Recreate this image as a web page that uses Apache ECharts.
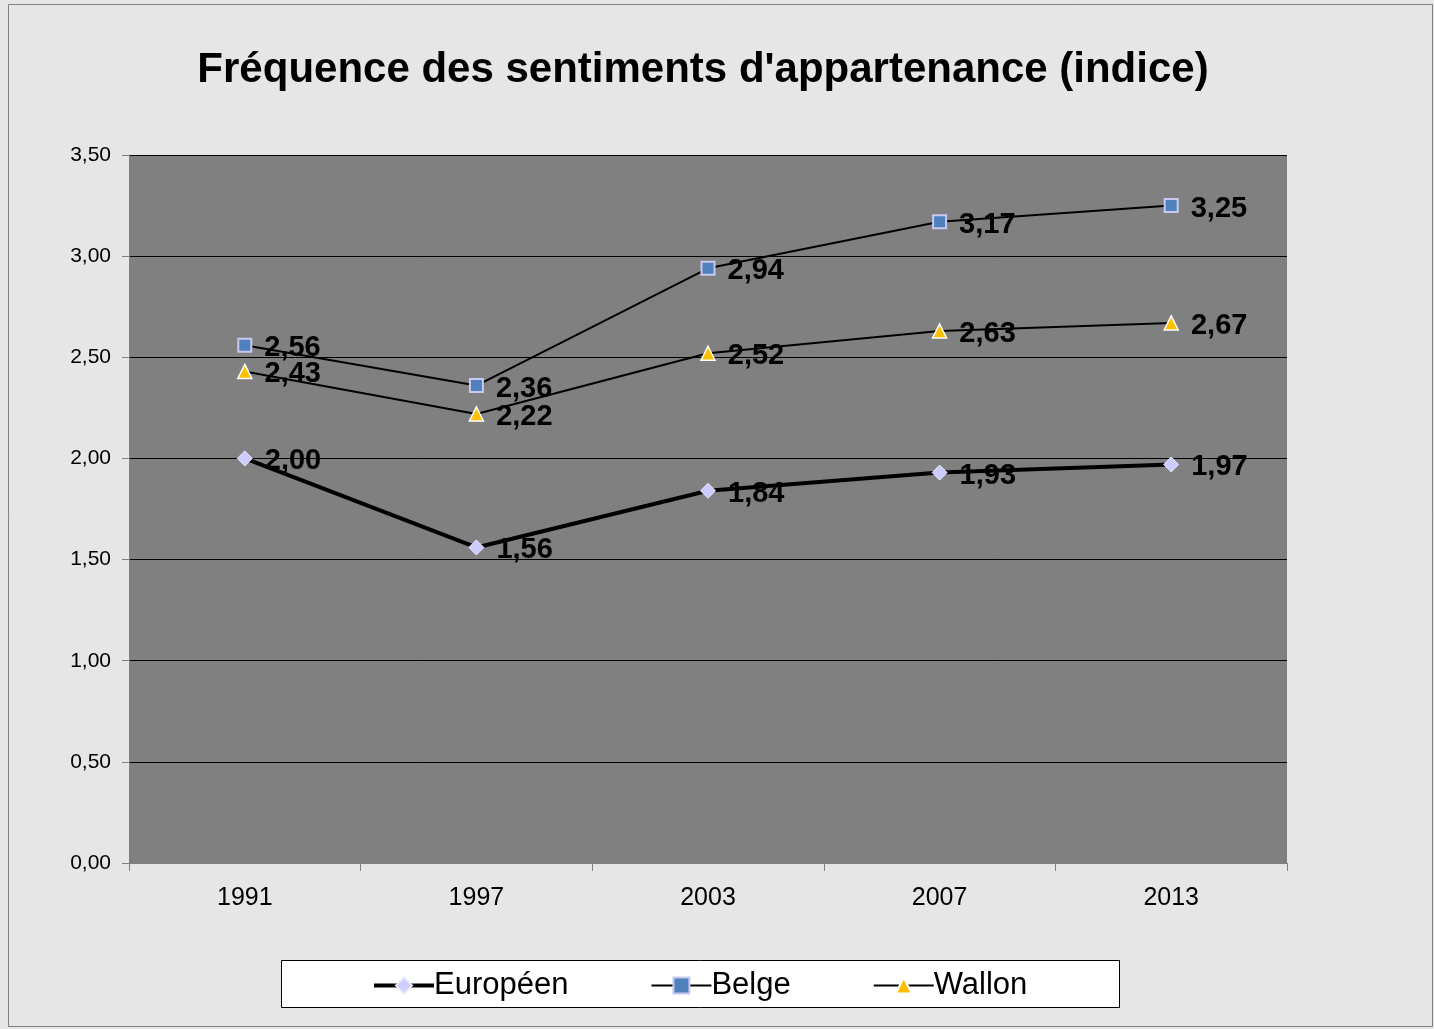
<!DOCTYPE html>
<html>
<head>
<meta charset="utf-8">
<script src="https://cdn.jsdelivr.net/npm/echarts@6/dist/echarts.min.js"></script>
<style>
  html, body { margin: 0; padding: 0; background: #e6e6e6; }
  #myChart { width: 1434px; height: 1029px; }
</style>
</head>
<body>
<div id="myChart"></div>
<script>
// valeurs
var years = ['1991', '1997', '2003', '2007', '2013'];
var europeen = [2.00, 1.56, 1.84, 1.93, 1.97];
var belge = [2.56, 2.36, 2.94, 3.17, 3.25];
var wallon = [2.43, 2.22, 2.52, 2.63, 2.67];

function fmt(v) {
  return v.toFixed(2).replace('.', ',');
}

var labelStyle = {
  show: true,
  position: 'right',
  distance: 12,
  offset: [0, 3],
  fontFamily: 'Liberation Sans, Arial, sans-serif',
  fontWeight: 'bold',
  fontSize: 29,
  color: '#000',
  formatter: function (p) { return fmt(p.value); }
};

var myChart = echarts.init(document.getElementById('myChart'));
myChart.setOption({
  backgroundColor: '#e6e6e6',
  animation: false,
  title: {
    text: "Fréquence des sentiments d'appartenance (indice)",
    left: 698,
    textAlign: 'center',
    top: 44,
    textStyle: {
      fontFamily: 'Liberation Sans, Arial, sans-serif',
      fontWeight: 'bold',
      fontSize: 42,
      color: '#000'
    }
  },
  graphic: [
    {
      type: 'rect',
      z: -10,
      shape: { x: 8.5, y: 4.5, width: 1424, height: 1022 },
      style: { fill: null, stroke: '#808080', lineWidth: 1 }
    },
    {
      type: 'rect',
      z: 0,
      shape: { x: 281.5, y: 960.5, width: 838, height: 47 },
      style: { fill: '#fff', stroke: '#000', lineWidth: 1 }
    }
  ],
  legend: {
    z: 10,
    top: 965,
    left: 367,
    itemGap: 82,
    itemWidth: 60,
    itemHeight: 20,
    textStyle: {
      fontFamily: 'Liberation Sans, Arial, sans-serif',
      fontSize: 31,
      color: '#000',
      padding: [0, 0, 0, -5]
    },
    data: [
      { name: 'Européen', lineStyle: { width: 4 } },
      { name: 'Belge', lineStyle: { width: 2 } },
      { name: 'Wallon', lineStyle: { width: 2 } }
    ]
  },
  grid: {
    left: 129,
    right: 147,
    top: 155,
    bottom: 166,
    show: true,
    backgroundColor: '#808080',
    borderWidth: 0
  },
  xAxis: {
    type: 'category',
    data: years,
    boundaryGap: true,
    axisLine: { lineStyle: { color: '#808080', width: 1 } },
    axisTick: { show: true, inside: false, length: 8, lineStyle: { color: '#808080' } },
    axisLabel: {
      margin: 23,
      fontFamily: 'Liberation Sans, Arial, sans-serif',
      fontSize: 25,
      color: '#000'
    }
  },
  yAxis: {
    type: 'value',
    min: 0,
    max: 3.5,
    interval: 0.5,
    axisLine: { show: true, lineStyle: { color: '#808080', width: 1 } },
    axisTick: { show: true, length: 7, lineStyle: { color: '#808080' } },
    splitLine: { show: true, lineStyle: { color: '#000', width: 1 } },
    axisLabel: {
      margin: 18,
      fontFamily: 'Liberation Sans, Arial, sans-serif',
      fontSize: 21,
      color: '#000',
      formatter: function (v) { return fmt(v); }
    }
  },
  series: [
    {
      name: 'Européen',
      type: 'line',
      data: europeen,
      symbol: 'diamond',
      symbolSize: 15,
      lineStyle: { color: '#000', width: 4 },
      itemStyle: { color: '#ccccff', borderColor: '#e8e8ff', borderWidth: 1 },
      label: labelStyle,
      z: 3
    },
    {
      name: 'Belge',
      type: 'line',
      data: belge,
      symbol: 'rect',
      symbolSize: 13,
      lineStyle: { color: '#000', width: 2 },
      itemStyle: { color: '#4f81bd', borderColor: '#c8c8f0', borderWidth: 2 },
      label: labelStyle,
      z: 3
    },
    {
      name: 'Wallon',
      type: 'line',
      data: wallon,
      symbol: 'triangle',
      symbolSize: 14,
      lineStyle: { color: '#000', width: 2 },
      itemStyle: { color: '#ffc000', borderColor: '#fff', borderWidth: 1.5 },
      label: labelStyle,
      z: 3
    }
  ]
});
</script>
</body>
</html>
